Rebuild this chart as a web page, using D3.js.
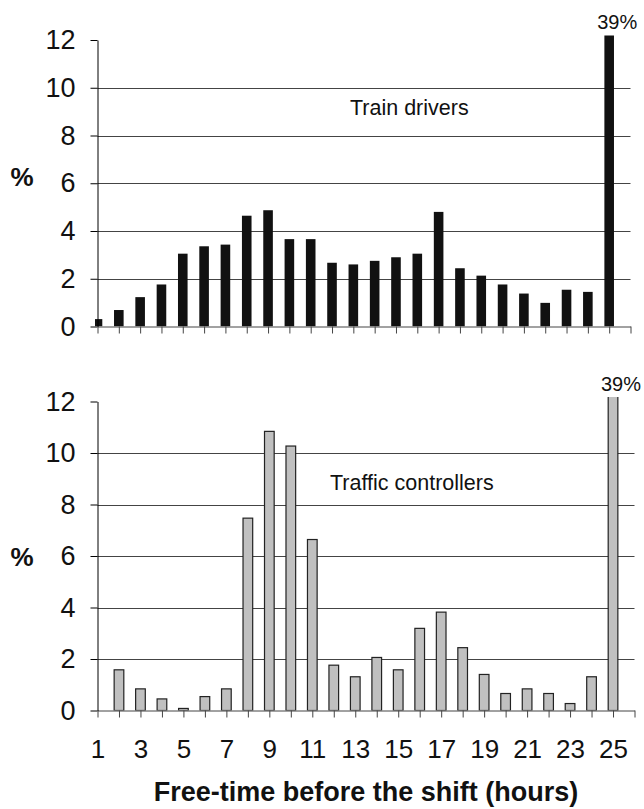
<!DOCTYPE html>
<html>
<head>
<meta charset="utf-8">
<script src="https://cdn.jsdelivr.net/npm/d3@7"></script>
<style>
  html, body { margin: 0; padding: 0; background: #fff; }
  svg { display: block; font-family: "Liberation Sans", Arial, sans-serif; }
</style>
</head>
<body>
<svg id="chart" width="644" height="809"></svg>
<script>
// Hours of free time before the shift (1..25, where 25 collects "25 or more")
const hours = [1, 2, 3, 4, 5, 6, 7, 8, 9, 10, 11, 12, 13, 14, 15, 16, 17, 18, 19, 20, 21, 22, 23, 24, 25];

// Share of shifts (%) per free-time class
const trainDrivers = [0.31, 0.69, 1.23, 1.76, 3.05, 3.36, 3.43, 4.64, 4.87, 3.66, 3.66, 2.67, 2.60,
                      2.75, 2.90, 3.05, 4.80, 2.44, 2.13, 1.76, 1.38, 0.99, 1.54, 1.45, 39];
const trafficControllers = [0, 1.58, 0.84, 0.45, 0.08, 0.54, 0.84, 7.47, 10.84, 10.27, 6.64, 1.76, 1.31,
                            2.06, 1.58, 3.19, 3.82, 2.44, 1.40, 0.66, 0.84, 0.66, 0.27, 1.31, 39];

// Axis ticks and labels
const yTicks = [0, 2, 4, 6, 8, 10, 12];
const gridTicks = [2, 4, 6, 8, 10];
const xTicks = [1, 2, 3, 4, 5, 6, 7, 8, 9, 10, 11, 12, 13, 14, 15, 16, 17, 18, 19, 20, 21, 22, 23, 24, 25, 26];
const xTickLabels = [1, 3, 5, 7, 9, 11, 13, 15, 17, 19, 21, 23, 25];
const panelTitles = ["Train drivers", "Traffic controllers"];
const xTitle = "Free-time before the shift (hours)";

const svg = d3.select("#chart");

const panels = [
  { id: "td", values: trainDrivers, title: panelTitles[0], left: 97.5, right: 630.5, top: 40, bottom: 326.5,
    fill: "#111", stroke: "none", showLabels: false, titleX: 350, titleY: 115, pctY: 185.5 },
  { id: "tc", values: trafficControllers, title: panelTitles[1], left: 97.5, right: 634.5, top: 401.5, bottom: 710.5,
    fill: "#c0c0c0", stroke: "#222", showLabels: true, titleX: 330, titleY: 490, pctY: 566 }
];

panels.forEach(p => {
  const x = d3.scaleLinear().domain([1, 26]).range([p.left, p.right]);
  const y = d3.scaleLinear().domain([0, 12]).range([p.bottom, p.top]);
  const barW = (x(2) - x(1)) * 0.45;

  const g = svg.append("g");

  // Horizontal gridlines
  g.append("g").selectAll("line").data(gridTicks).join("line")
    .attr("x1", p.left).attr("x2", p.right)
    .attr("y1", d => Math.round(y(d)) + 0.5).attr("y2", d => Math.round(y(d)) + 0.5)
    .attr("stroke", "#444").attr("stroke-width", 1);

  // Plot clip: bars beyond the top of the scale are cut just above 12
  svg.append("defs").append("clipPath").attr("id", "clip-" + p.id)
    .append("rect")
    .attr("x", p.left - 2.5).attr("y", p.top - 4.5)
    .attr("width", p.right - p.left + 10).attr("height", p.bottom - p.top + 4.5);

  g.append("g").attr("clip-path", `url(#clip-${p.id})`)
    .selectAll("rect").data(hours.map((h, i) => ({ h, v: p.values[i] })).filter(d => d.v > 0))
    .join("rect")
    .attr("x", d => x(d.h) - barW / 2)
    .attr("width", barW)
    .attr("y", d => y(d.v))
    .attr("height", d => y(0) - y(d.v))
    .attr("fill", p.fill)
    .attr("stroke", p.stroke)
    .attr("stroke-width", p.stroke === "none" ? 0 : 1.2);

  // X axis
  const xAxis = d3.axisBottom(x)
    .tickValues(xTicks)
    .tickSize(7)
    .tickSizeOuter(0)
    .tickPadding(22)
    .tickFormat(d => (p.showLabels && xTickLabels.includes(d)) ? d : "");
  const gx = g.append("g").attr("transform", `translate(0,${p.bottom})`).call(xAxis);
  gx.select(".domain").attr("stroke", "#444");
  gx.selectAll(".tick line").attr("stroke", "#444");
  gx.selectAll(".tick text").attr("font-size", 26).attr("fill", "#111")
    .attr("font-family", "'Liberation Sans', Arial, sans-serif");

  // Y axis
  const yAxis = d3.axisLeft(y).tickValues(yTicks).tickSize(7).tickSizeOuter(0).tickPadding(15);
  const gy = g.append("g").attr("transform", `translate(${p.left},0)`).call(yAxis);
  gy.select(".domain").attr("stroke", "#000");
  gy.selectAll(".tick line").attr("stroke", "#000");
  gy.selectAll(".tick text").attr("font-size", 27).attr("fill", "#111")
    .attr("font-family", "'Liberation Sans', Arial, sans-serif");

  // Value note for the clipped last bar
  g.append("text")
    .attr("x", x(25) + 8).attr("y", y(12) - 11)
    .attr("text-anchor", "middle")
    .attr("font-size", 20).attr("fill", "#111")
    .text(p.values[24] + "%");

  // Panel title
  g.append("text")
    .attr("x", p.titleX).attr("y", p.titleY)
    .attr("font-size", 21.5).attr("fill", "#111")
    .text(p.title);

  // Y axis unit
  g.append("text")
    .attr("x", 22).attr("y", p.pctY)
    .attr("text-anchor", "middle")
    .attr("font-size", 26).attr("font-weight", "bold").attr("fill", "#111")
    .text("%");
});

// X axis title
svg.append("text")
  .attr("x", 366).attr("y", 801)
  .attr("text-anchor", "middle")
  .attr("font-size", 27).attr("font-weight", "bold").attr("fill", "#111")
  .text(xTitle);
</script>
</body>
</html>
